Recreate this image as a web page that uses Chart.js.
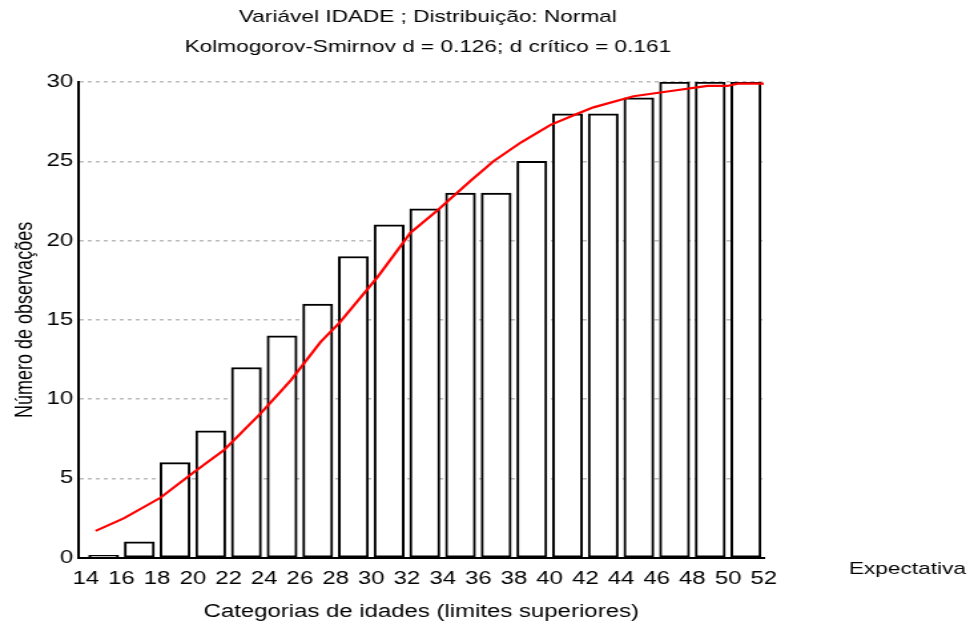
<!DOCTYPE html>
<html>
<head>
<meta charset="utf-8">
<script src="https://cdn.jsdelivr.net/npm/chart.js@4.4.0/dist/chart.umd.min.js"></script>
<style>
  body { margin: 0; background: #fff; overflow: hidden; }
  /* the original picture is stretched sideways, so the canvas is drawn narrow and widened */
  #myChart { display: block; width: 974px; height: 628px; }
</style>
</head>
<body>
<canvas id="myChart" width="732" height="628" style="width:974px;height:628px"></canvas>
<script>
// category centres (upper limits are the tick labels)
var binCenters = [15, 17, 19, 21, 23, 25, 27, 29, 31, 33, 35, 37, 39, 41, 43, 45, 47, 49, 51];
var observed = [0.15, 1, 6, 8, 12, 14, 16, 19, 21, 22, 23, 23, 25, 28, 28, 29, 30, 30, 30];

// expected (normal) cumulative curve
var expX = [14.55, 16.15, 18.2, 20.05, 21.75, 23.8, 25.5, 27.15, 28.2, 30.35, 32.2, 33.7, 35.6, 36.85, 38.4, 40.05, 41.55, 42.45, 44.7, 46.6, 48.85, 49.95, 50.55, 52];
var expY = [1.7, 2.5, 3.8, 5.4, 6.8, 9.1, 11.2, 13.6, 14.8, 17.7, 20.5, 21.9, 23.8, 25.0, 26.2, 27.3, 28.0, 28.4, 29.1, 29.4, 29.75, 29.75, 29.9, 29.9];

var xTicks = [14, 16, 18, 20, 22, 24, 26, 28, 30, 32, 34, 36, 38, 40, 42, 44, 46, 48, 50, 52];
var yTicks = [0, 5, 10, 15, 20, 25, 30];

var titleLines = ['Variável IDADE ; Distribuição: Normal', 'Kolmogorov-Smirnov d = 0.126; d crítico = 0.161'];

var FONT = "'Liberation Sans', Arial, sans-serif";

// titles centred over the plot (not the whole canvas) and the stray legend text at the right
var extraText = {
    id: 'extraText',
    afterDraw: function (chart) {
        var ctx = chart.ctx;
        var area = chart.chartArea;
        var cx = (area.left + area.right) / 2 + 5;
        ctx.save();
        ctx.fillStyle = '#000';
        ctx.textBaseline = 'middle';
        ctx.font = "17px " + FONT;
        ctx.textAlign = 'center';
        ctx.fillText(titleLines[0], cx, 17);
        ctx.fillText(titleLines[1], cx, 47);
        ctx.textAlign = 'left';
        ctx.fillText('Expectativa', 638, 569);
        ctx.restore();
    }
};

var ctx = document.getElementById('myChart').getContext('2d');
var myChart = new Chart(ctx, {
    type: 'bar',
    data: {
        datasets: [
            {
                type: 'line',
                label: 'Expectativa',
                data: expX.map(function (x, i) { return { x: x, y: expY[i] }; }),
                borderColor: '#ff0000',
                borderWidth: 2.2,
                pointRadius: 0,
                tension: 0,
                fill: false,
                order: 0
            },
            {
                label: 'Observado',
                data: binCenters.map(function (x, i) { return { x: x, y: observed[i] }; }),
                backgroundColor: '#ffffff',
                borderColor: '#000000',
                borderWidth: 2,
                borderSkipped: false,
                barThickness: 22.5,
                order: 1
            }
        ]
    },
    options: {
        responsive: false,
        animation: false,
        devicePixelRatio: 1,
        layout: { padding: { left: 8, right: 158, top: 82, bottom: 5 } },
        plugins: {
            legend: { display: false },
            tooltip: { enabled: false },
            title: { display: false }
        },
        scales: {
            x: {
                type: 'linear',
                min: 13.6,
                max: 52,
                offset: false,
                afterBuildTicks: function (scale) {
                    scale.ticks = xTicks.map(function (v) { return { value: v }; });
                },
                grid: { display: false, drawTicks: false },
                border: { display: true, color: '#000', width: 2 },
                ticks: {
                    color: '#000',
                    font: { family: FONT, size: 18 },
                    padding: 10,
                    maxRotation: 0,
                    autoSkip: false
                },
                title: {
                    display: true,
                    text: 'Categorias de idades (limites superiores)',
                    color: '#000',
                    font: { family: FONT, size: 18 },
                    padding: { top: 2, bottom: 0 }
                }
            },
            y: {
                min: 0,
                max: 30,
                afterBuildTicks: function (scale) {
                    scale.ticks = yTicks.map(function (v) { return { value: v }; });
                },
                grid: {
                    color: '#bcbcbc',
                    lineWidth: 1.5,
                    drawTicks: false
                },
                border: { display: true, color: '#000', width: 2, dash: [3, 3] },
                ticks: {
                    color: '#000',
                    font: { family: FONT, size: 18 },
                    padding: 4
                },
                title: {
                    display: true,
                    text: 'Número de observações',
                    color: '#000',
                    font: { family: FONT, size: 18 },
                    padding: { top: 0, bottom: 1.5 }
                }
            }
        }
    },
    plugins: [extraText]
});
</script>
</body>
</html>
